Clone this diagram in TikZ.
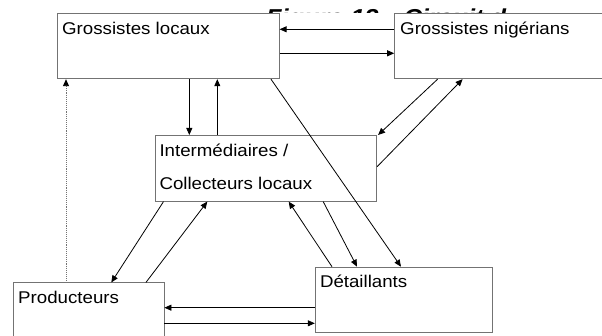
\documentclass[tikz,border=0pt]{standalone}
\usepackage{fontspec}
\setmainfont{Liberation Sans}[FakeStretch=1.1]
\usetikzlibrary{arrows.meta}
\begin{document}
\begin{tikzpicture}[x=1pt,y=-1pt,
  box/.style={draw=black!55,line width=0.9pt,fill=white,rectangle,inner sep=0pt,anchor=north west},
  lbl/.style={anchor=base west,inner sep=0pt,font=\fontsize{17}{20}\selectfont},
  arr/.style={draw=black,line width=0.8pt,-{Triangle[length=7pt,width=6pt]}},
  dotarr/.style={draw=black!55,line width=0.9pt,densely dotted,-{Triangle[length=7pt,width=6pt,fill=black,color=black]}}]
\useasboundingbox (0,0) rectangle (602,336);
% clipped title
\begin{scope}
\clip (0,0) rectangle (602,12.5);
\node[anchor=base west,inner sep=0pt,font=\fontsize{23}{26}\selectfont\bfseries\itshape] (title) at (266,25.2) {Figure 13 : Circuit d};
\end{scope}
% boxes
\node[box,minimum width=221.9pt,minimum height=65pt] (gl) at (56.8,13.3) {};
\node[box,minimum width=216pt,minimum height=65pt] (gn) at (394.2,13.3) {};
\node[box,minimum width=221.5pt,minimum height=65.7pt] (im) at (154.7,135) {};
\node[box,minimum width=150.5pt,minimum height=62.5pt] (pr) at (13,282.5) {};
\node[box,minimum width=176.7pt,minimum height=65pt] (de) at (314.8,266.7) {};
% labels
\node[lbl] (tgl) at (62,34.3) {Grossistes locaux};
\node[lbl] (tgn) at (400,34.3) {Grossistes nigérians};
\node[lbl] (tim1) at (159.3,156.7) {Intermédiaires /};
\node[lbl] (tim2) at (159.3,189.3) {Collecteurs locaux};
\node[lbl] (tpr) at (18,304) {Producteurs};
\node[lbl] (tde) at (319.8,287.3) {Détaillants};
% connectors
\draw[arr] ([yshift=-16pt]gn.north west) -- ([yshift=-16pt]gl.north east);
\draw[arr] ([yshift=-40pt]gl.north east) -- ([yshift=-40pt]gn.north west);
\draw[arr] ([xshift=132.5pt]gl.south west) -- ([xshift=34.6pt]im.north west);
\draw[arr] ([xshift=62.6pt]im.north west) -- ([xshift=160.5pt]gl.south west);
\draw[dotarr] ([xshift=53pt]pr.north west) -- ([xshift=9.2pt]gl.south west);
\draw[arr] ([xshift=214.2pt]gl.south west) -- ([xshift=86.2pt]de.north west);
\draw[arr] ([xshift=43.4pt]gn.south west) -- ([xshift=1pt]im.north east);
\draw[arr] ([yshift=-31.7pt]im.north east) -- ([xshift=68.4pt]gn.south west);
\draw[arr] ([xshift=8.8pt]im.south west) -- ([xshift=98.3pt]pr.north west);
\draw[arr] ([xshift=132.9pt]pr.north west) -- ([xshift=52.6pt]im.south west);
\draw[arr] ([xshift=17.2pt]de.north west) -- ([xshift=134pt]im.south west);
\draw[arr] ([xshift=168.5pt]im.south west) -- ([xshift=42.2pt]de.north west);
\draw[arr] ([yshift=-41pt]de.north west) -- ([yshift=-25.2pt]pr.north east);
\draw[arr] ([yshift=-40.8pt]pr.north east) -- ([yshift=-56.6pt]de.north west);
\end{tikzpicture}
\end{document}
